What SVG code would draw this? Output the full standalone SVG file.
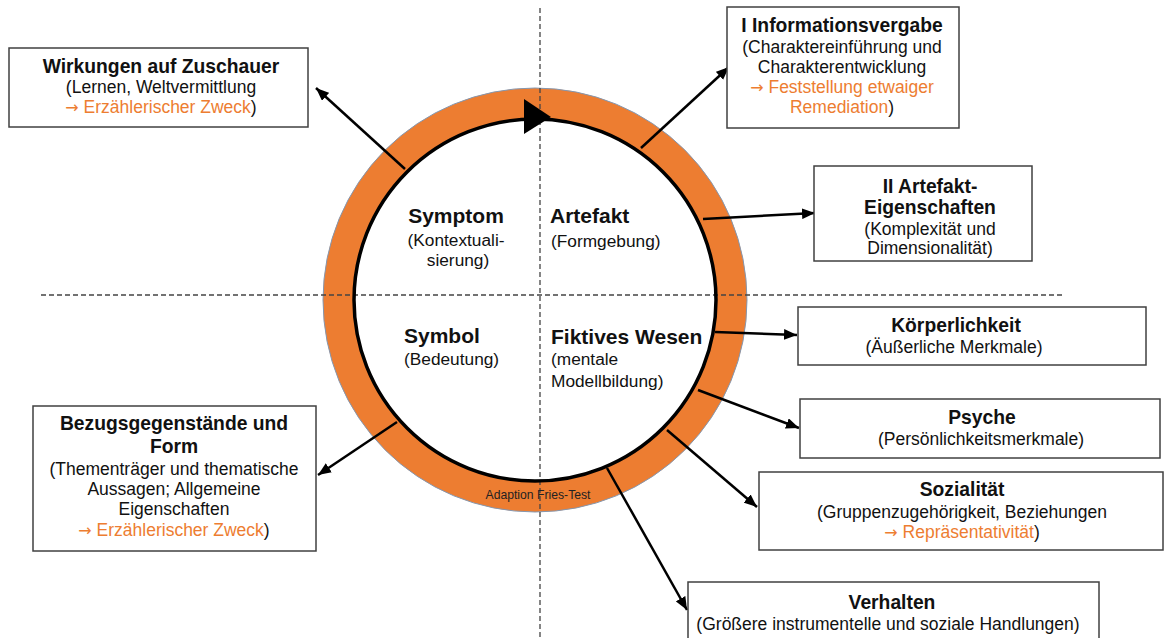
<svg xmlns="http://www.w3.org/2000/svg" width="1164" height="638" viewBox="0 0 1164 638">
<style>
text{font-family:"Liberation Sans",Arial,Helvetica,sans-serif;fill:#111}
.t{font-size:19.3px;font-weight:bold;text-anchor:middle}
.s{font-size:17.5px;text-anchor:middle}
.ct{font-size:21px;font-weight:bold}
.cs{font-size:17.3px}
.o{fill:#ED7D31}
.ar{font-family:"DejaVu Sans",sans-serif;font-size:16px}
.box{fill:#fff;stroke:#404040;stroke-width:1.5}
.con{stroke:#000;stroke-width:2.5;fill:none;marker-end:url(#ah)}
.dash{stroke:#444;stroke-width:1.3;stroke-dasharray:5 3;fill:none}
</style>
<defs>
<marker id="ah" viewBox="0 0 12 10" refX="12" refY="5" markerWidth="13" markerHeight="11" markerUnits="userSpaceOnUse" orient="auto"><path d="M0,0 L12,5 L0,10 z" fill="#000"/></marker>
</defs>
<rect width="1164" height="638" fill="#fff"/>

<g id="cycle">
<circle cx="535" cy="300" r="212" fill="#ED7D31" stroke="#8497b0" stroke-width="1"/>
<circle cx="535" cy="300" r="181" fill="#fff"/>
</g>

<g id="guides">
<line class="dash" x1="41" y1="295" x2="1063" y2="295"/>
<line class="dash" x1="540" y1="8" x2="540" y2="638" stroke-dasharray="6 4"/>
</g>

<g id="connectors">
<line class="con" x1="405" y1="169" x2="316" y2="88"/>
<line class="con" x1="641" y1="148" x2="729" y2="67"/>
<line class="con" x1="703" y1="219" x2="815" y2="213"/>
<line class="con" x1="715" y1="332" x2="797" y2="335"/>
<line class="con" x1="698" y1="390" x2="799" y2="428"/>
<line class="con" x1="667" y1="430" x2="757" y2="507"/>
<line class="con" x1="607" y1="468" x2="687" y2="610"/>
<line class="con" x1="397" y1="422" x2="318" y2="475"/>
</g>

<g id="ring">
<circle cx="535" cy="300" r="181" fill="none" stroke="#000" stroke-width="3.5"/>
<polygon points="524,99 524,134 551,117" fill="#000"/>
<text x="538" y="499" text-anchor="middle" style="font-size:12.2px;fill:#222">Adaption Fries-Test</text>
</g>

<g id="symptom">
<text class="ct" x="456" y="223" text-anchor="middle">Symptom</text>
<text class="cs" x="456" y="246" text-anchor="middle">(Kontextuali-</text>
<text class="cs" x="458" y="266" text-anchor="middle">sierung)</text>
</g>
<g id="artefakt">
<text class="ct" x="550" y="223">Artefakt</text>
<text class="cs" x="551" y="247">(Formgebung)</text>
</g>
<g id="symbol">
<text class="ct" x="404" y="343">Symbol</text>
<text class="cs" x="404" y="365">(Bedeutung)</text>
</g>
<g id="fiktives-wesen">
<text class="ct" x="551" y="344">Fiktives Wesen</text>
<text class="cs" x="551" y="365">(mentale</text>
<text class="cs" x="551" y="387">Modellbildung)</text>
</g>

<g id="wirkungen">
<rect class="box" x="9" y="48" width="299" height="79"/>
<text class="t" x="161" y="73">Wirkungen auf Zuschauer</text>
<text class="s" x="161" y="93">(Lernen, Weltvermittlung</text>
<text class="s" x="161" y="113"><tspan class="o ar">→</tspan><tspan class="o"> Erzählerischer Zweck</tspan>)</text>
</g>

<g id="informationsvergabe">
<rect class="box" x="727" y="7" width="232" height="121"/>
<text class="t" x="842" y="32">I Informationsvergabe</text>
<text class="s" x="842" y="53">(Charaktereinführung und</text>
<text class="s" x="842" y="73">Charakterentwicklung</text>
<text class="s" x="842" y="93"><tspan class="o ar">→</tspan><tspan class="o"> Feststellung etwaiger</tspan></text>
<text class="s" x="842" y="113"><tspan class="o">Remediation</tspan>)</text>
</g>

<g id="artefakt-eigenschaften">
<rect class="box" x="814" y="166" width="218" height="95"/>
<text class="t" x="930" y="193">II Artefakt-</text>
<text class="t" x="930" y="214">Eigenschaften</text>
<text class="s" x="930" y="235">(Komplexität und</text>
<text class="s" x="930" y="254">Dimensionalität)</text>
</g>

<g id="koerperlichkeit">
<rect class="box" x="798" y="307" width="348" height="58"/>
<text class="t" x="956" y="332">Körperlichkeit</text>
<text class="s" x="954" y="353">(Äußerliche Merkmale)</text>
</g>

<g id="psyche">
<rect class="box" x="800" y="399" width="360" height="59"/>
<text class="t" x="982" y="424">Psyche</text>
<text class="s" x="981" y="445">(Persönlichkeitsmerkmale)</text>
</g>

<g id="sozialitaet">
<rect class="box" x="759" y="472" width="404" height="78"/>
<text class="t" x="962" y="496">Sozialität</text>
<text class="s" x="962" y="518">(Gruppenzugehörigkeit, Beziehungen</text>
<text class="s" x="962" y="538"><tspan class="o ar">→</tspan><tspan class="o"> Repräsentativität</tspan>)</text>
</g>

<g id="verhalten">
<rect class="box" x="688" y="582" width="411" height="70"/>
<text class="t" x="892" y="609">Verhalten</text>
<text class="s" x="888" y="630">(Größere instrumentelle und soziale Handlungen)</text>
</g>

<g id="bezugsgegenstaende">
<rect class="box" x="33" y="406" width="283" height="145"/>
<text class="t" x="174" y="430">Bezugsgegenstände und</text>
<text class="t" x="174" y="453">Form</text>
<text class="s" x="174" y="475">(Thementräger und thematische</text>
<text class="s" x="174" y="495">Aussagen; Allgemeine</text>
<text class="s" x="174" y="515">Eigenschaften</text>
<text class="s" x="174" y="536"><tspan class="o ar">→</tspan><tspan class="o"> Erzählerischer Zweck</tspan>)</text>
</g>
</svg>
